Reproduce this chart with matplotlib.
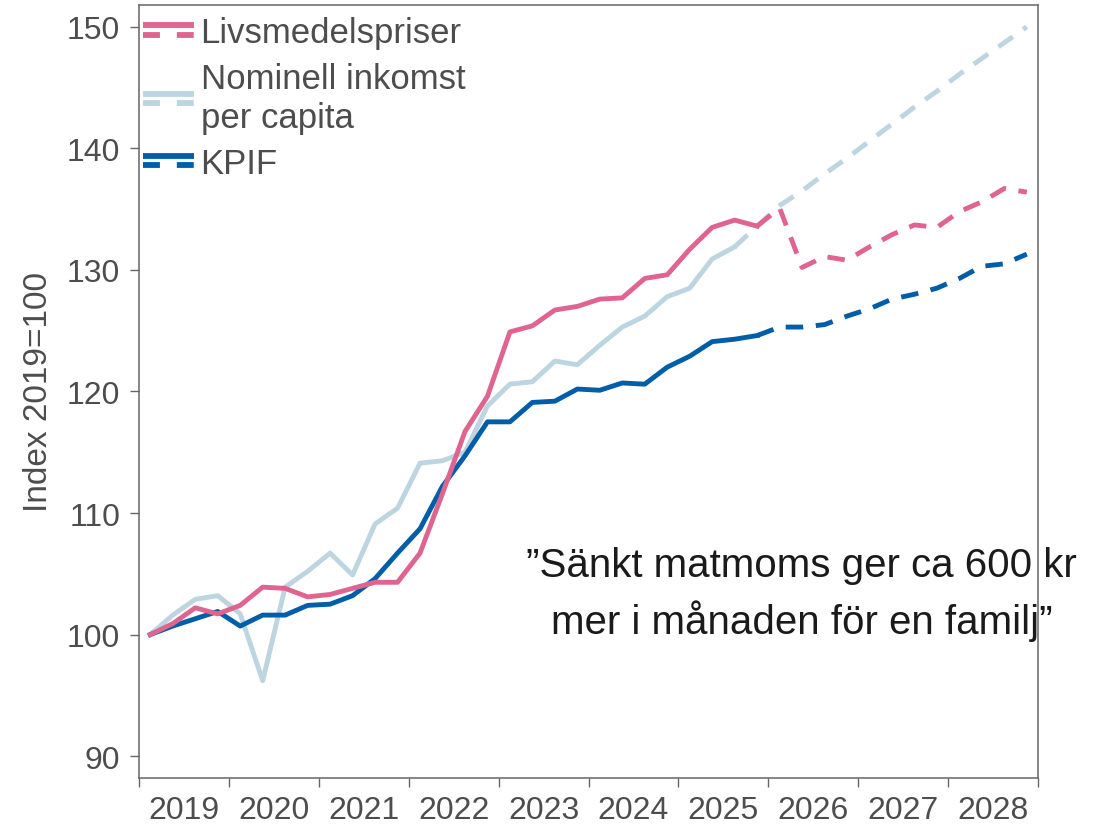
import numpy as np
import matplotlib
matplotlib.use("Agg")
import matplotlib.pyplot as plt
from matplotlib.lines import Line2D
from matplotlib.legend_handler import HandlerBase

plt.rcParams['font.family'] = ['Liberation Sans', 'DejaVu Sans']

# quarterly series, 2019 Q1 .. 2028 Q4 (index 2019 = 100)
years = list(range(2019, 2029))
livsmedel = [100.0, 100.9, 102.2, 101.7, 102.4, 103.9, 103.8, 103.1,
             103.3, 103.8, 104.3, 104.3, 106.7, 111.6, 116.7, 119.6,
             124.9, 125.4, 126.7, 127.0, 127.6, 127.7, 129.3, 129.6,
             131.7, 133.5, 134.1, 133.6, 135.1, 130.2, 131.1, 130.8,
             131.9, 132.9, 133.7, 133.5, 134.8, 135.6, 136.7, 136.4]
inkomst = [100.0, 101.6, 102.9, 103.2, 101.7, 96.2, 103.9, 105.2,
           106.7, 104.9, 109.1, 110.4, 114.1, 114.3, 115.0, 118.8,
           120.6, 120.8, 122.5, 122.2, 123.8, 125.3, 126.2, 127.8,
           128.5, 130.9, 131.9, 133.6, 135.3, 136.5, 137.9, 139.2,
           140.6, 142.0, 143.4, 144.7, 146.1, 147.4, 148.7, 150.0]
kpif = [100.0, 100.7, 101.3, 101.9, 100.7, 101.6, 101.6, 102.4,
        102.5, 103.2, 104.6, 106.7, 108.7, 112.2, 114.7, 117.5,
        117.5, 119.1, 119.2, 120.2, 120.1, 120.7, 120.6, 122.0,
        122.9, 124.1, 124.3, 124.6, 125.3, 125.3, 125.5, 126.2,
        126.8, 127.6, 128.0, 128.5, 129.3, 130.3, 130.5, 131.3]
# index of last outcome quarter (forecast dashed after that)
last_outcome = {'livsmedel': 27, 'inkomst': 26, 'kpif': 27}

labels = ['Livsmedelspriser', 'Nominell inkomst\nper capita', 'KPIF']
colors = ['#DF6590', '#BCD5E0', '#005EA8']

annotation = ['\u201dS\u00e4nkt matmoms ger ca 600 kr',
              'mer i m\u00e5naden f\u00f6r en familj\u201d']

grey = '#4d4d4d'
lw = 3.5


class SolidDashHandler(HandlerBase):
    # solid line on top, dashed line below, like the original key
    def create_artists(self, legend, orig_handle, xdescent, ydescent,
                       width, height, fontsize, trans):
        color = orig_handle.get_color()
        w = orig_handle.get_linewidth()
        ym = height / 2 - ydescent
        off = fontsize * 0.13
        solid = Line2D([-xdescent, width - xdescent], [ym + off, ym + off],
                       color=color, lw=w, solid_capstyle='butt')
        dashed = Line2D([-xdescent, width - xdescent], [ym - off, ym - off],
                        color=color, lw=w, linestyle=(0, (2.9, 2.9)),
                        dash_capstyle='butt')
        solid.set_transform(trans)
        dashed.set_transform(trans)
        return [solid, dashed]


def main():
    n = len(livsmedel)
    x = years[0] + (np.arange(n) + 0.5) / 4

    fig = plt.figure(figsize=(10.95, 8.28), dpi=100)
    ax = fig.add_axes([0.127, 0.0592, 0.821, 0.9336])

    series = [(inkomst, 'inkomst', colors[1]),
              (kpif, 'kpif', colors[2]),
              (livsmedel, 'livsmedel', colors[0])]
    for z, (vals, key, c) in enumerate(series):
        k = last_outcome[key]
        vals = np.array(vals)
        ax.plot(x[:k + 1], vals[:k + 1], color=c, lw=lw,
                solid_joinstyle='round', zorder=2 + z)
        ax.plot(x[k:], vals[k:], color=c, lw=lw, linestyle=(0, (3.6, 2.6)),
                dash_capstyle='butt', zorder=2 + z)

    ax.set_xlim(2019, 2029)
    ax.set_ylim(88.2, 151.8)
    ax.set_yticks(range(90, 151, 10))
    ax.set_xticks(range(2019, 2030))
    ax.set_xticklabels([])
    ax.set_xticks([y + 0.5 for y in years], minor=True)
    ax.set_xticklabels([str(y) for y in years], minor=True)
    ax.tick_params(axis='x', which='minor', length=0, pad=12,
                   labelsize=23, labelcolor=grey)
    ax.tick_params(axis='x', which='major', length=6.5, width=1.0,
                   color='#666666')
    ax.tick_params(axis='y', length=6.5, width=1.0, color='#666666',
                   pad=7, labelsize=23, labelcolor=grey)
    for sp in ax.spines.values():
        sp.set_color('#666666')
        sp.set_linewidth(1.1)

    ax.set_ylabel('Index 2019=100', fontsize=24, color=grey, labelpad=9)

    handles = [Line2D([], [], color=c, lw=4.2) for c in colors]
    leg = ax.legend(handles, labels, loc='upper left',
                    bbox_to_anchor=(0, 0.99),
                    borderaxespad=0, borderpad=0.1, frameon=False,
                    handler_map={Line2D: SolidDashHandler()},
                    handlelength=1.47, handletextpad=0.2, labelspacing=0.36,
                    fontsize=25, labelcolor=grey)
    for t in leg.get_texts():
        t.set_linespacing(1.25)

    ax.text(2026.37, 104.85, annotation[0], ha='center', va='baseline',
            fontsize=29, color='#1a1a1a')
    ax.text(2026.37, 100.1, annotation[1], ha='center', va='baseline',
            fontsize=29, color='#1a1a1a')

    fig.savefig('out.png', dpi=100)


if __name__ == "__main__":
    main()
